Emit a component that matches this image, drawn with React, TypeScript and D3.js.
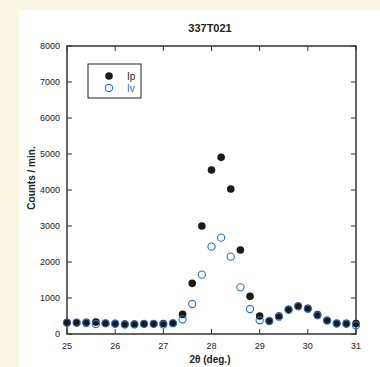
import React, { useEffect, useRef } from 'react';
import * as d3 from 'd3';

const angles = d3.range(0, 31).map(i => +(25 + i * 0.2).toFixed(1));
const ip = [315, 315, 325, 330, 300, 290, 275, 275, 285, 285, 290, 300, 545, 1407, 3000, 4555, 4907, 4027, 2333, 1046, 500, 361, 500, 685, 777, 713, 537, 380, 296, 296, 290];
const iv = [315, 315, 305, 275, 295, 285, 265, 265, 280, 280, 265, 300, 407, 833, 1648, 2426, 2676, 2148, 1296, 694, 380, 361, 480, 670, 770, 700, 520, 370, 290, 280, 240];
const xTicks = [25, 26, 27, 28, 29, 30, 31];
const yTicks = [0, 1000, 2000, 3000, 4000, 5000, 6000, 7000, 8000];

const App = () => {
  const svgRef = useRef(null);

  useEffect(() => {
    const svg = d3.select(svgRef.current);
    svg.selectAll('*').remove();

    const W = 380, H = 367;
    const margin = { top: 46, right: 24, bottom: 33, left: 67 };
    const font = 'Liberation Sans, Arial, sans-serif';

    svg.append('rect').attr('width', W).attr('height', H).attr('fill', '#f9f7e3');
    svg.append('rect').attr('x', 19).attr('y', 10).attr('width', W - 19).attr('height', H - 10).attr('fill', '#fff');

    const x = d3.scaleLinear().domain([25, 31]).range([margin.left, W - margin.right]);
    const y = d3.scaleLinear().domain([0, 8000]).range([H - margin.bottom, margin.top]);
    const tick = 5;

    const g = svg.append('g');
    // ticks inside on all sides
    xTicks.forEach(t => {
      g.append('line').attr('x1', x(t)).attr('x2', x(t)).attr('y1', y(0)).attr('y2', y(0) - tick).attr('stroke', '#333');
      g.append('line').attr('x1', x(t)).attr('x2', x(t)).attr('y1', y(8000)).attr('y2', y(8000) + tick).attr('stroke', '#333');
      g.append('text').attr('x', x(t)).attr('y', y(0) + 15).attr('text-anchor', 'middle')
        .attr('font-family', font).attr('font-size', 9).attr('fill', '#222').text(t);
    });
    yTicks.forEach(t => {
      g.append('line').attr('x1', x(25)).attr('x2', x(25) + tick).attr('y1', y(t)).attr('y2', y(t)).attr('stroke', '#333');
      g.append('line').attr('x1', x(31)).attr('x2', x(31) - tick).attr('y1', y(t)).attr('y2', y(t)).attr('stroke', '#333');
      g.append('text').attr('x', x(25) - 7).attr('y', y(t) + 3).attr('text-anchor', 'end')
        .attr('font-family', font).attr('font-size', 9).attr('fill', '#222').text(t);
    });

    g.append('rect').attr('x', x(25)).attr('y', y(8000)).attr('width', x(31) - x(25)).attr('height', y(0) - y(8000))
      .attr('fill', 'none').attr('stroke', '#333').attr('stroke-width', 1.5);

    // data
    svg.append('g').selectAll('circle').data(ip).enter().append('circle')
      .attr('cx', (d, i) => x(angles[i])).attr('cy', d => y(d)).attr('r', 3.8).attr('fill', '#1a1a1a');
    svg.append('g').selectAll('circle').data(iv).enter().append('circle')
      .attr('cx', (d, i) => x(angles[i])).attr('cy', d => y(d)).attr('r', 3.6)
      .attr('fill', 'none').attr('stroke', '#2f6fc4').attr('stroke-width', 1.1);

    // legend
    svg.append('rect').attr('x', 88).attr('y', 64).attr('width', 53).attr('height', 34)
      .attr('fill', 'none').attr('stroke', '#222').attr('stroke-width', 1);
    svg.append('circle').attr('cx', 109).attr('cy', 76).attr('r', 3.8).attr('fill', '#1a1a1a');
    svg.append('circle').attr('cx', 109).attr('cy', 88).attr('r', 3.6).attr('fill', 'none').attr('stroke', '#2f6fc4').attr('stroke-width', 1.1);
    svg.append('text').attr('x', 127).attr('y', 80).attr('font-family', font).attr('font-size', 10).attr('fill', '#222').text('Ip');
    svg.append('text').attr('x', 127).attr('y', 92).attr('font-family', font).attr('font-size', 10).attr('fill', '#2f6fc4').text('Iv');

    // titles
    svg.append('text').attr('x', 210).attr('y', 32).attr('text-anchor', 'middle')
      .attr('font-family', font).attr('font-size', 11).attr('font-weight', 'bold').attr('fill', '#222').text('337T021');
    svg.append('text').attr('x', 210).attr('y', 363).attr('text-anchor', 'middle')
      .attr('font-family', font).attr('font-size', 10).attr('font-weight', 'bold').attr('fill', '#222').text('2θ (deg.)');
    svg.append('text').attr('transform', 'translate(35,178) rotate(-90)').attr('text-anchor', 'middle')
      .attr('font-family', font).attr('font-size', 10).attr('font-weight', 'bold').attr('fill', '#222').text('Counts / min.');
  }, []);

  return <svg ref={svgRef} width={380} height={367} style={{ position: 'absolute', left: 0, top: 0 }}></svg>;
};

export default App;
